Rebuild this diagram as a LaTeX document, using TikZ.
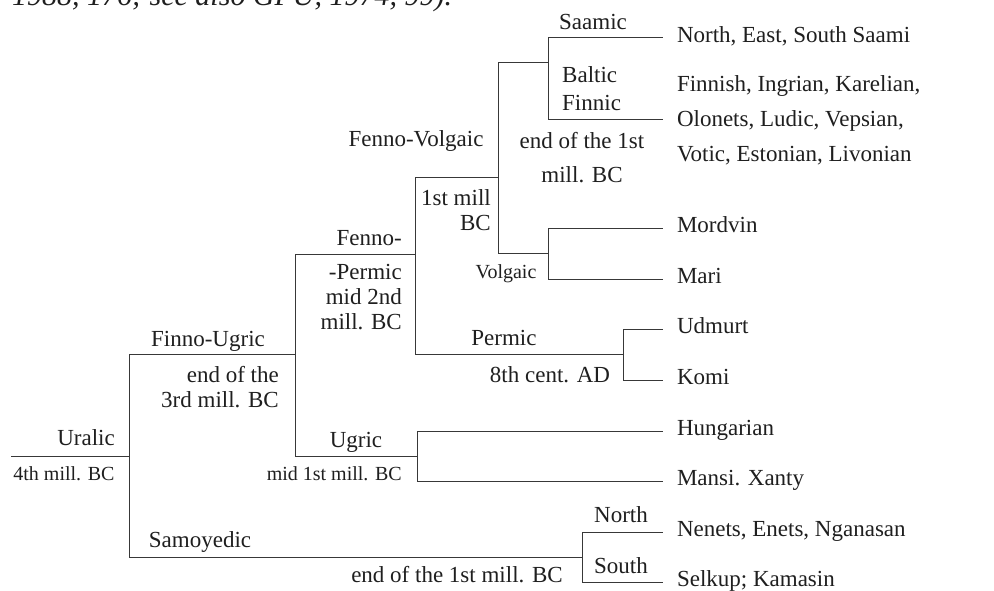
\documentclass[tikz,border=0pt]{standalone}
\usepackage{fontspec}
\setmainfont{Liberation Serif}
\begin{document}
\begin{tikzpicture}[x=1pt,y=-1pt,
  branch/.style={line width=1pt,draw=black!78},
  lbl/.style={inner sep=0pt,text=black!88,font=\fontsize{23}{25}\selectfont},
  small/.style={inner sep=0pt,text=black!88,font=\fontsize{20}{22}\selectfont},
  leaf/.style={anchor=west,inner ysep=0pt,inner xsep=0pt,outer xsep=14pt,
    text=black!88,font=\fontsize{23}{25}\selectfont,text height=14pt,text depth=5pt},
  leafm/.style={anchor=west,inner ysep=0pt,inner xsep=0pt,outer xsep=14pt,
    text=black!88,align=left,font=\fontsize{23}{35}\selectfont}]
\fill[white] (0,0) rectangle (994,591);
\useasboundingbox (0,0) rectangle (994,591);
% cut-off line of preceding text
\node[inner sep=0pt,anchor=base west,text=black!88,font=\fontsize{30}{32}\selectfont\itshape] (prev) at (12,6) {1988, 176; see also GPU, 1974, 99).};
% junctions
\coordinate (u0) at (11,456);
\coordinate (ju) at (129,456);
\coordinate (jfu) at (295,354);
\coordinate (jfp) at (415,254);
\coordinate (jfv) at (498,178);
\coordinate (jfs) at (548,63);
\coordinate (jv) at (548,253);
\coordinate (jp) at (623,354);
\coordinate (jug) at (417,456);
\coordinate (js) at (582,557);
% leaves
\node[leaf] (saami) at (663,38) {North, East, South Saami};
\node[leafm] (finnic) at (663,120) {Finnish, Ingrian, Karelian,\\Olonets, Ludic, Vepsian,\\Votic, Estonian, Livonian};
\node[leaf] (mordvin) at (663,228) {Mordvin};
\node[leaf] (mari) at (663,279) {Mari};
\node[leaf] (udmurt) at (663,329) {Udmurt};
\node[leaf] (komi) at (663,380) {Komi};
\node[leaf] (hung) at (663,431) {Hungarian};
\node[leaf] (mansi) at (663,481) {Mansi. Xanty};
\node[leaf] (nenets) at (663,532) {Nenets, Enets, Nganasan};
\node[leaf] (selkup) at (663,582) {Selkup; Kamasin};
% branches
\draw[branch] (u0) -- (ju);
\draw[branch] (ju) |- (jfu);
\draw[branch] (ju) |- (js);
\draw[branch] (jfu) |- (jfp);
\draw[branch] (jfu) |- (jug);
\draw[branch] (jfp) |- (jfv);
\draw[branch] (jfp) |- (jp);
\draw[branch] (jfv) |- (jfs);
\draw[branch] (jfv) |- (jv);
\draw[branch] (jfs) |- (saami.west);
\draw[branch] (jfs) |- (finnic.west);
\draw[branch] (jv) |- (mordvin.west);
\draw[branch] (jv) |- (mari.west);
\draw[branch] (jp) |- (udmurt.west);
\draw[branch] (jp) |- (komi.west);
\draw[branch] (jug) |- (hung.west);
\draw[branch] (jug) |- (mansi.west);
\draw[branch] (js) |- (nenets.west);
\draw[branch] (js) |- (selkup.west);
% labels
\node[lbl,anchor=base east] (l-uralic) at (115,445) {Uralic};
\node[small,anchor=base] (d-uralic) at (64,480) {4th mill. BC};
\node[lbl,anchor=base] (l-fu) at (208,346) {Finno-Ugric};
\node[lbl,anchor=north east,align=right] (d-fu) at (279,366.4) {end of the\\3rd mill. BC};
\node[lbl,anchor=base east] (l-fp) at (402,245) {Fenno-};
\node[lbl,anchor=north east,align=right] (d-fp) at (402,264.4) {-Permic\\mid 2nd\\mill. BC};
\node[lbl,anchor=base] (l-fv) at (416,147) {Fenno-Volgaic};
\node[lbl,anchor=north east,align=right] (d-fv) at (491,189.4) {1st mill\\BC};
\node[small,anchor=base] (l-v) at (506,278) {Volgaic};
\node[lbl,anchor=base] (l-saamic) at (593,30) {Saamic};
\node[lbl,anchor=north west,align=left,font=\fontsize{23}{28}\selectfont] (l-bf) at (562,66.4) {Baltic\\Finnic};
\node[lbl,anchor=north,align=center,font=\fontsize{23}{34}\selectfont] (d-bf) at (582,132.4) {end of the 1st\\mill. BC};
\node[lbl,anchor=base] (l-perm) at (504,345) {Permic};
\node[lbl,anchor=base] (d-perm) at (550,382) {8th cent. AD};
\node[lbl,anchor=base] (l-ug) at (356,447) {Ugric};
\node[small,anchor=base east] (d-ug) at (402,480) {mid 1st mill. BC};
\node[lbl,anchor=base] (l-sam) at (200,547) {Samoyedic};
\node[lbl,anchor=base] (d-sam) at (457,582) {end of the 1st mill. BC};
\node[lbl,anchor=base] (l-north) at (621,522) {North};
\node[lbl,anchor=base] (l-south) at (621,573) {South};
\end{tikzpicture}
\end{document}
